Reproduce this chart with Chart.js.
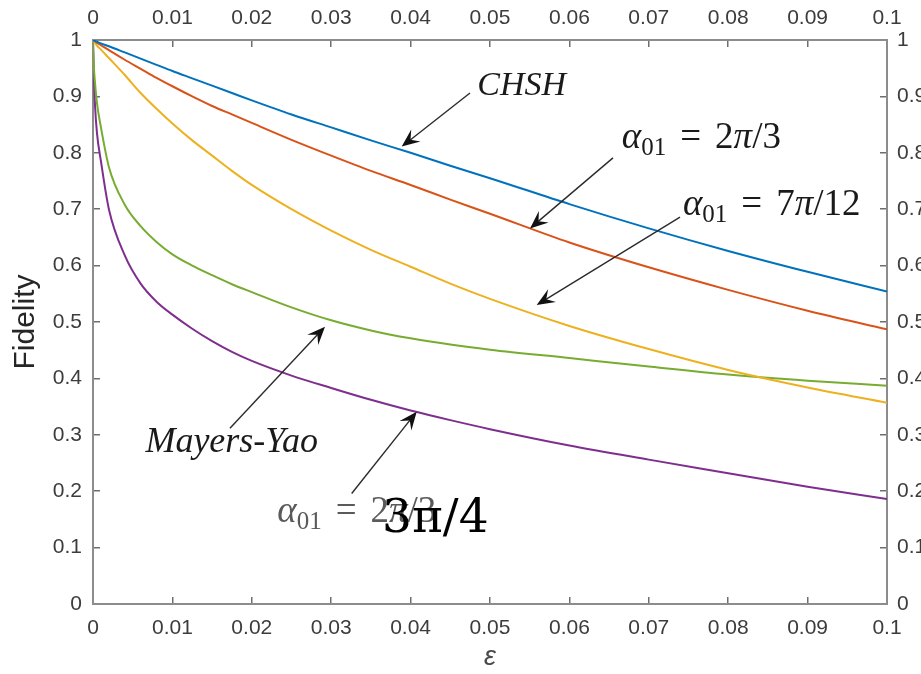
<!DOCTYPE html>
<html lang="en">
<head>
<meta charset="UTF-8">
<title>Fidelity vs epsilon</title>
<script src="https://cdn.jsdelivr.net/npm/chart.js@4.4.1/dist/chart.umd.min.js"></script>
<style>
  html, body { margin: 0; padding: 0; background: #fff; overflow: hidden; }
  #wrap { width: 921px; height: 674px; overflow: hidden; }
  canvas { display: block; }
</style>
</head>
<body>
<div id="wrap"><canvas id="myChart" width="950" height="674"></canvas></div>
<script>
// epsilon values (x) shared by all curves
const eps = [0, 0.0001, 0.00025, 0.0005, 0.001, 0.002, 0.004, 0.006, 0.008, 0.01, 0.0125, 0.015, 0.0175,
             0.02, 0.025, 0.03, 0.035, 0.04, 0.045, 0.05, 0.06, 0.07, 0.08, 0.09, 0.1];

const chsh    = [1, 0.9994, 0.9986, 0.997, 0.994, 0.989, 0.978, 0.967, 0.956, 0.945, 0.932, 0.919, 0.906,
                 0.893, 0.868, 0.845, 0.822, 0.800, 0.777, 0.755, 0.709, 0.666, 0.626, 0.589, 0.554];
const a2pi3   = [1, 0.999, 0.9977, 0.995, 0.991, 0.982, 0.965, 0.949, 0.933, 0.918, 0.900, 0.883, 0.868,
                 0.853, 0.823, 0.795, 0.768, 0.743, 0.717, 0.692, 0.641, 0.597, 0.557, 0.520, 0.487];
const a7pi12  = [1, 0.998, 0.995, 0.99, 0.983, 0.968, 0.938, 0.906, 0.878, 0.852, 0.822, 0.795, 0.768,
                 0.743, 0.700, 0.662, 0.628, 0.598, 0.568, 0.541, 0.493, 0.452, 0.415, 0.384, 0.357];
const mayers  = [1, 0.955, 0.925, 0.888, 0.845, 0.775, 0.708, 0.670, 0.642, 0.620, 0.600, 0.583, 0.567,
                 0.553, 0.526, 0.503, 0.485, 0.471, 0.460, 0.451, 0.436, 0.421, 0.407, 0.396, 0.387];
const a3pi4   = [1, 0.94, 0.885, 0.835, 0.785, 0.70, 0.618, 0.568, 0.536, 0.513, 0.488, 0.466, 0.447,
                 0.431, 0.405, 0.383, 0.362, 0.343, 0.326, 0.310, 0.281, 0.256, 0.232, 0.208, 0.186];

const seriesNames = ['CHSH', 'α01 = 2π/3', 'α01 = 7π/12', 'Mayers-Yao', 'α01 = 3π/4'];
const seriesValues = [chsh, a2pi3, a7pi12, mayers, a3pi4];
const seriesColors = ['#0072BD', '#D95319', '#EDB120', '#77AC30', '#7E2F8E'];

const xTicks = [0, 0.01, 0.02, 0.03, 0.04, 0.05, 0.06, 0.07, 0.08, 0.09, 0.1];
const yTicks = [0, 0.1, 0.2, 0.3, 0.4, 0.5, 0.6, 0.7, 0.8, 0.9, 1];

// text labels and arrows, placed in data coordinates
const serif = '"Liberation Serif", "Times New Roman", serif';
const labels = [
  { parts: [{ t: 'CHSH', f: 'italic 34px ' + serif }], at: [0.0484, 0.9025] },
  { alpha: '2π/3', at: [0.0666, 0.8085] },
  { alpha: '7π/12', at: [0.0743, 0.6897] },
  { parts: [{ t: 'Mayers-Yao', f: 'italic 36px ' + serif }], at: [0.0066, 0.2695] },
  { alpha: '2π/3', at: [0.0232, 0.1454], color: '#5a5a5a' },
  { parts: [{ t: '3π/4', f: '47px "DejaVu Serif", serif' }], at: [0.0364, 0.1277], color: '#000' }
];
const arrows = [
  { tail: [0.04748, 0.906], tip: [0.03888, 0.811] },
  { tail: [0.06549, 0.791], tip: [0.05504, 0.666] },
  { tail: [0.07393, 0.686], tip: [0.05588, 0.530] },
  { tail: [0.01725, 0.3115], tip: [0.02922, 0.4917] },
  { tail: [0.03258, 0.196], tip: [0.04077, 0.341] }
];

function alphaParts(value) {
  const i = value.indexOf('π');
  return [
    { t: 'α', f: 'italic 37px ' + serif },
    { t: '01', f: '25px ' + serif, dy: 7, after: 14 },
    { t: '=', f: '37px ' + serif, after: 14 },
    { t: value.slice(0, i), f: '37px ' + serif },
    { t: 'π', f: 'italic 37px ' + serif },
    { t: value.slice(i + 1), f: '37px ' + serif }
  ];
}

const annotate = {
  id: 'annotate',
  afterDatasetsDraw(chart) {
    const ctx = chart.ctx, sx = chart.scales.x, sy = chart.scales.y;
    ctx.save();
    // arrows
    arrows.forEach(a => {
      const x0 = sx.getPixelForValue(a.tail[0]), y0 = sy.getPixelForValue(a.tail[1]);
      const x1 = sx.getPixelForValue(a.tip[0]), y1 = sy.getPixelForValue(a.tip[1]);
      const ang = Math.atan2(y1 - y0, x1 - x0);
      const L = 18, W = 7.5;
      ctx.strokeStyle = '#2b2b2b';
      ctx.lineWidth = 1.4;
      ctx.beginPath();
      ctx.moveTo(x0, y0);
      ctx.lineTo(x1 - Math.cos(ang) * L * 0.6, y1 - Math.sin(ang) * L * 0.6);
      ctx.stroke();
      const bx = x1 - Math.cos(ang) * L, by = y1 - Math.sin(ang) * L;
      const nx = -Math.sin(ang), ny = Math.cos(ang);
      ctx.fillStyle = '#111';
      ctx.beginPath();
      ctx.moveTo(x1, y1);
      ctx.lineTo(bx + nx * W, by + ny * W);
      ctx.lineTo(x1 - Math.cos(ang) * L * 0.62, y1 - Math.sin(ang) * L * 0.62);
      ctx.lineTo(bx - nx * W, by - ny * W);
      ctx.closePath();
      ctx.fill();
    });
    // text
    ctx.textBaseline = 'alphabetic';
    ctx.textAlign = 'left';
    labels.forEach(lb => {
      let x = sx.getPixelForValue(lb.at[0]);
      const y = sy.getPixelForValue(lb.at[1]);
      const parts = lb.parts || alphaParts(lb.alpha);
      ctx.fillStyle = lb.color || '#1a1a1a';
      parts.forEach(p => {
        ctx.font = p.f;
        ctx.fillText(p.t, x, y + (p.dy || 0));
        x += ctx.measureText(p.t).width + (p.after || 0);
      });
    });
    ctx.restore();
  }
};

const tickFont = { family: '"Liberation Sans", Arial, sans-serif', size: 21 };
const fmt = v => String(Number(Number(v).toFixed(3)));

function axis(position, list, min, max, size, pad, extra) {
  const horizontal = position === 'top' || position === 'bottom';
  return Object.assign({
    type: 'linear',
    position: position,
    min: min,
    max: max,
    afterBuildTicks: s => { s.ticks = list.map(v => ({ value: v })); },
    afterFit: s => { if (horizontal) s.height = size; else s.width = size; },
    grid: { drawOnChartArea: false, drawTicks: true, tickLength: -7, color: '#6e6e6e', lineWidth: 1.5 },
    border: { display: true, color: '#8c8c8c', width: 2 },
    ticks: { font: tickFont, color: '#3c3c3c', padding: pad, autoSkip: false, maxRotation: 0, callback: fmt }
  }, extra || {});
}

const ctx = document.getElementById('myChart').getContext('2d');
new Chart(ctx, {
  type: 'line',
  data: {
    datasets: seriesValues.map((vals, i) => ({
      label: seriesNames[i],
      data: eps.map((e, j) => ({ x: e, y: vals[j] })),
      borderColor: seriesColors[i],
      borderWidth: 2,
      pointRadius: 0,
      fill: false,
      cubicInterpolationMode: 'monotone',
      xAxisID: 'x',
      yAxisID: 'y'
    }))
  },
  options: {
    responsive: false,
    animation: false,
    layout: { padding: 0 },
    plugins: { legend: { display: false }, tooltip: { enabled: false } },
    scales: {
      x: axis('bottom', xTicks, 0, 0.1, 70, 19, {
        title: { display: true, text: 'ε', color: '#4a4a4a', padding: { top: 0, bottom: 0 },
                 font: { family: '"Liberation Sans", Arial, sans-serif', size: 27, style: 'italic' } }
      }),
      x2: axis('top', xTicks, 0, 0.1, 40, 16),
      y: axis('left', yTicks, 0, 1, 93, 18, {
        title: { display: true, text: 'Fidelity', color: '#262626', padding: { top: 8, bottom: 0 },
                 font: { family: '"Liberation Sans", Arial, sans-serif', size: 30 } }
      }),
      y2: axis('right', yTicks, 0, 1, 63, 17)
    }
  },
  plugins: [annotate]
});
</script>
</body>
</html>
